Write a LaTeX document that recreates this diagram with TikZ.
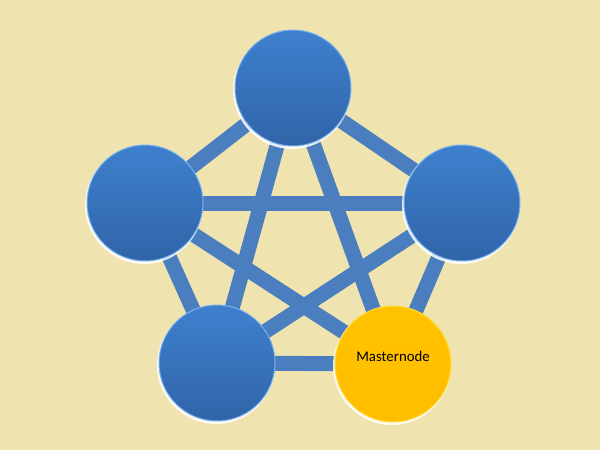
\documentclass[tikz,border=0pt]{standalone}
\usepackage{fontspec}
\setmainfont{Carlito}
\definecolor{bg}{RGB}{239,227,176}
\definecolor{edgeblue}{RGB}{74,126,190}
\definecolor{ballTop}{RGB}{63,128,206}
\definecolor{ballBot}{RGB}{48,100,168}
\definecolor{rimblue}{RGB}{120,180,240}
\definecolor{goldTop}{RGB}{255,194,0}
\definecolor{goldBot}{RGB}{255,190,0}
\definecolor{goldRim}{RGB}{255,220,60}
\tikzset{
  link/.style={draw=edgeblue, line width=15pt},
  ball/.style={circle, minimum size=116pt, inner sep=0pt, top color=ballTop, bottom color=ballBot, draw=rimblue, line width=1pt},
  goldball/.style={circle, minimum size=116pt, inner sep=0pt, top color=goldTop, bottom color=goldBot, draw=goldRim, line width=1pt},
  glow/.style={circle, minimum size=118pt, inner sep=0pt, fill=white, opacity=0.85},
  lbl/.style={font=\fontsize{14.8}{18}\selectfont, text=black, inner sep=0pt}
}
\begin{document}
\begin{tikzpicture}[x=1pt,y=-1pt]
\fill[bg] (0,0) rectangle (600,450);
\useasboundingbox (0,0) rectangle (600,450);
% positions
\coordinate (pT) at (293,88);
\coordinate (pL) at (145,203);
\coordinate (pR) at (462,203);
\coordinate (pBL) at (217,363);
\coordinate (pBR) at (393,364);
% connectors
\draw[link] (pT) -- (pL);
\draw[link] (pT) -- (pR);
\draw[link] (pT) -- (pBL);
\draw[link] (pT) -- (pBR);
\draw[link] (pL) -- (pR);
\draw[link] (pL) -- (pBL);
\draw[link] (pL) -- (pBR);
\draw[link] (pR) -- (pBL);
\draw[link] (pR) -- (pBR);
\draw[link] (pBL) -- (pBR);
% glows
\foreach \p in {pT,pL,pR,pBL,pBR}{
  \node[glow] at ([shift={(-1,2)}]\p) {};
}
% balls
\node[ball] (top) at (pT) {};
\node[ball] (left) at (pL) {};
\node[ball] (right) at (pR) {};
\node[ball] (bl) at (pBL) {};
\node[goldball] (master) at (pBR) {};
\node[lbl] (mlabel) at (393,356) {Masternode};
\end{tikzpicture}
\end{document}
